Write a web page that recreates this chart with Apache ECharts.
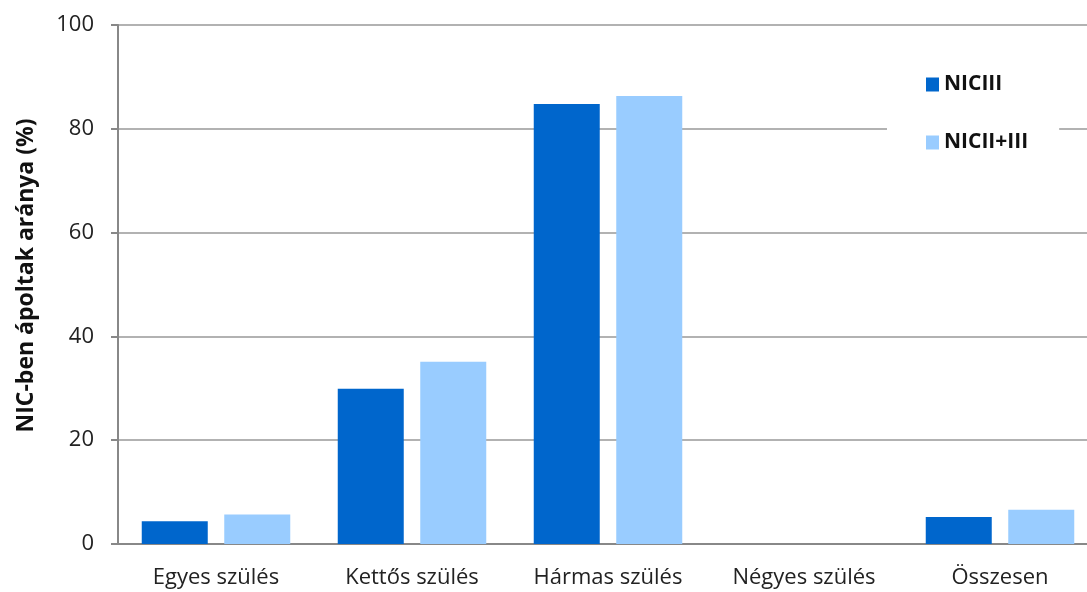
<!DOCTYPE html>
<html><head><meta charset="utf-8">
<script src="https://cdn.jsdelivr.net/npm/echarts@6/dist/echarts.min.js"></script>
<style>html,body{margin:0;padding:0;background:#fff}#c{width:1087px;height:592px}</style>
</head><body><div id="c"></div>
<script>
const categories = ['Egyes szülés', 'Kettős szülés', 'Hármas szülés', 'Négyes szülés', 'Összesen'];
const seriesNames = ['NICIII', 'NICII+III'];
const nic3 = [4.4, 29.9, 84.8, 0, 5.2];
const nic23 = [5.7, 35.1, 86.3, 0, 6.6];
const yTicks = [0, 20, 40, 60, 80, 100];

const font = 'Open Sans';
const chart = echarts.init(document.getElementById('c'));
chart.setOption({
  animation: false,
  textStyle: { fontFamily: font },
  grid: { left: 118, width: 980, top: 25, bottom: 48, containLabel: false, outerBoundsMode: 'none' },
  legend: {
    orient: 'vertical',
    left: 887, top: 60,
    data: seriesNames,
    backgroundColor: '#fff',
    padding: [14, 31, 14, 39],
    itemWidth: 13, itemHeight: 14, itemGap: 37,
    icon: 'rect',
    textStyle: { fontFamily: font, fontSize: 21, fontWeight: 'bold', color: '#111', padding: [0, 0, 0, 0] }
  },
  xAxis: {
    type: 'category', data: categories,
    axisLine: { lineStyle: { color: '#888', width: 2 } },
    axisTick: { show: false },
    axisLabel: { fontSize: 22, color: '#222', margin: 23 }
  },
  yAxis: {
    type: 'value', min: yTicks[0], max: yTicks[yTicks.length - 1], interval: 20,
    name: 'NIC-ben ápoltak aránya (%)', nameLocation: 'middle', nameGap: 80, nameRotate: 90,
    nameTextStyle: { fontSize: 23, fontWeight: 'bold', color: '#111', padding: [0, 0, 0, 18] },
    axisLine: { show: true, lineStyle: { color: '#888', width: 2 } },
    axisTick: { show: true, length: 7, inside: false, lineStyle: { color: '#888', width: 2 } },
    axisLabel: { fontSize: 22, color: '#222', margin: 24 },
    splitLine: { lineStyle: { color: '#999', width: 1.5 } }
  },
  series: [
    { name: seriesNames[0], type: 'bar', data: nic3, barWidth: 66, barGap: '25%', itemStyle: { color: '#0066CC' }, z: 3 },
    { name: seriesNames[1], type: 'bar', data: nic23, barWidth: 66, itemStyle: { color: '#99CCFF' }, z: 3 }
  ]
});
</script></body></html>
